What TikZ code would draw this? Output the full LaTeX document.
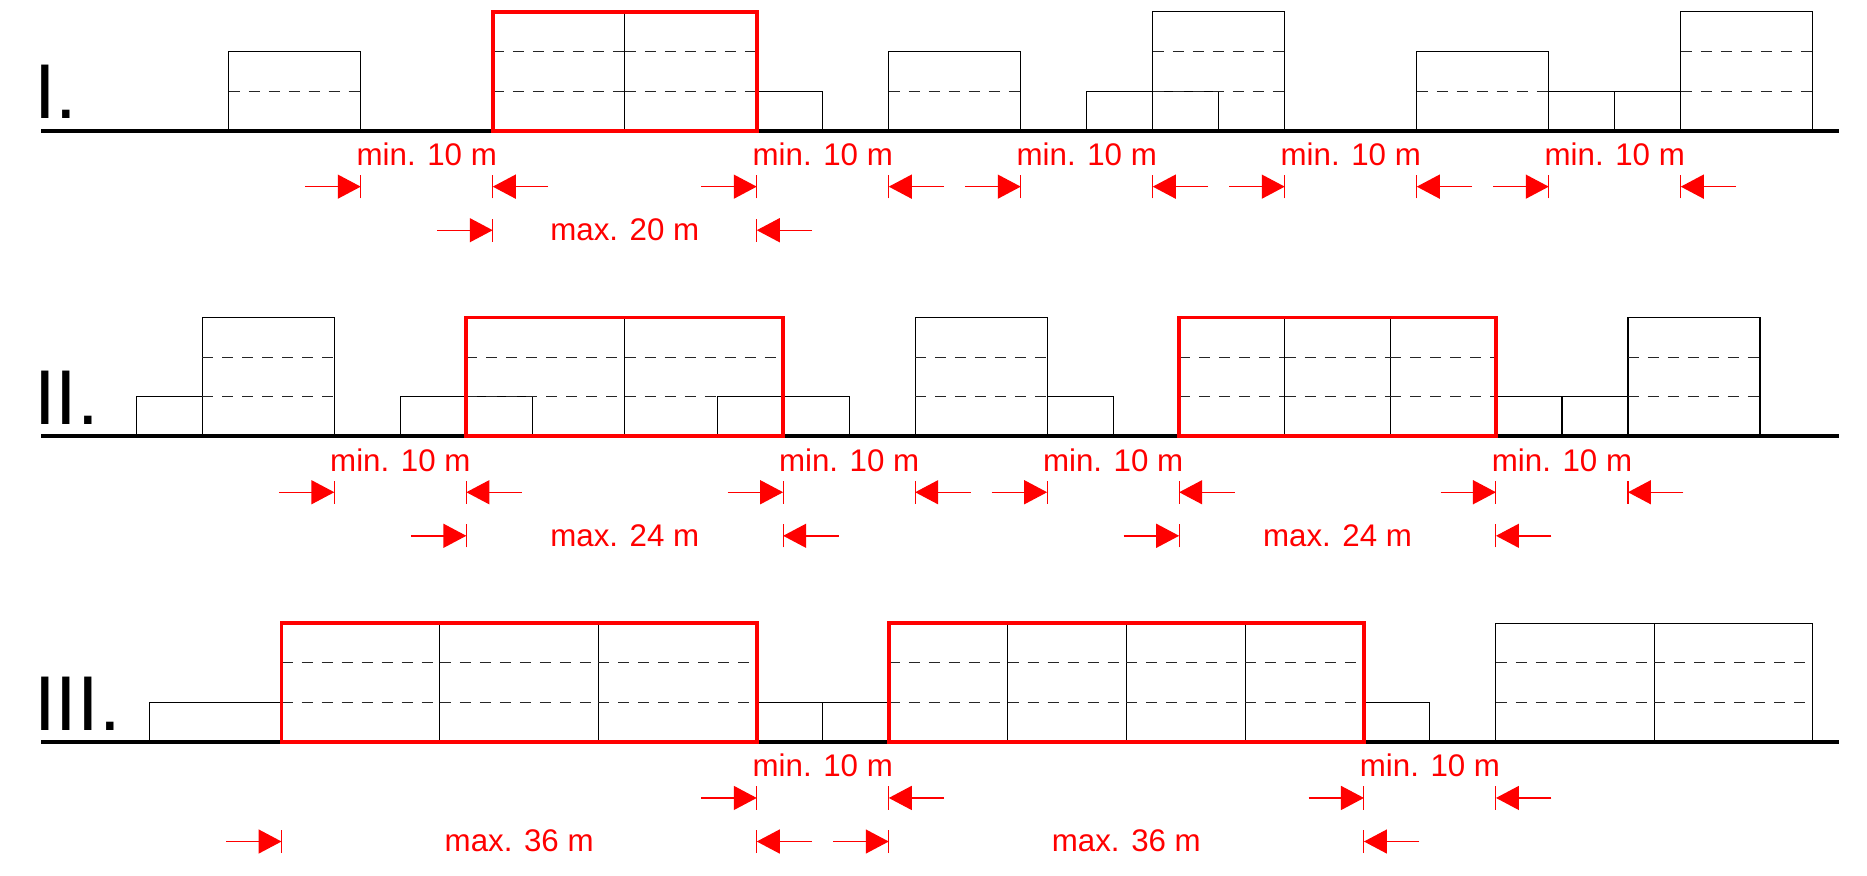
\documentclass[tikz,border=0pt]{standalone}
\usepackage{fontspec}
\setmainfont{Liberation Sans}
\usetikzlibrary{arrows.meta}
\tikzset{
  wall/.style={draw=black, line width=0.3pt},
  storey/.style={draw=black!85, line width=0.3pt, dash pattern=on 0.11cm off 0.09cm},
  redframe/.style={draw=red, line width=1.1pt, line join=miter},
  groundline/.style={draw=black, line width=1.15pt},
  dimline/.style={draw=red, line width=0.4pt, -{Triangle[length=0.23cm,width=0.24cm]}},
  dimtick/.style={draw=red, line width=0.3pt},
  dimtext/.style={text=red, font=\fontsize{8.9pt}{10pt}\selectfont, inner sep=0pt, anchor=base},
  numeral/.style={font=\fontsize{22.1pt}{24pt}\selectfont, inner sep=0pt, anchor=base west},
}
% building: x1, x2, storeys, ground
\newcommand{\bldg}[4]{%
  \draw[wall] (#1,#4) rectangle (#2,#4+3*#3);
  \ifnum#3>1 \draw[storey] (#1,#4+3) -- (#2,#4+3);\fi
  \ifnum#3>2 \draw[storey] (#1,#4+6) -- (#2,#4+6);\fi}
\newcommand{\tipR}[2]{%
  \draw[dimline] (#1-4.2,#2) -- (#1,#2);
  \draw[dimtick] (#1,#2-0.88) -- (#1,#2+0.88);}
\newcommand{\tipL}[2]{%
  \draw[dimline] (#1+4.2,#2) -- (#1,#2);
  \draw[dimtick] (#1,#2-0.88) -- (#1,#2+0.88);}
\begin{document}
\begin{tikzpicture}[x=0.132cm,y=0.132cm]
\useasboundingbox (-37.33,-66.36) rectangle (104.11,0);
\fill[white] (-37.33,-66.36) rectangle (104.11,0);
% ---------------- Row I ----------------
\def\g{-9.90}
\node[numeral] (lblI) at (-34.78,\g+0.9) {I.};
\bldg{-20}{-10}{2}{\g}
\bldg{0}{10}{3}{\g}
\bldg{10}{20}{3}{\g}
\bldg{20}{25}{1}{\g}
\bldg{30}{40}{2}{\g}
\bldg{45}{55}{1}{\g}
\bldg{50}{60}{3}{\g}
\bldg{70}{80}{2}{\g}
\bldg{80}{85}{1}{\g}
\bldg{85}{90}{1}{\g}
\bldg{90}{100}{3}{\g}
\draw[groundline] (-34.2,\g) -- (102,\g);
\draw[redframe] (0,\g) rectangle (20,\g+9);
\tipR{-10}{\g-4.24}\tipL{0}{\g-4.24}
\tipR{20}{\g-4.24}\tipL{30}{\g-4.24}
\tipR{40}{\g-4.24}\tipL{50}{\g-4.24}
\tipR{60}{\g-4.24}\tipL{70}{\g-4.24}
\tipR{80}{\g-4.24}\tipL{90}{\g-4.24}
\node[dimtext] (m1a) at (-5,\g-2.65) {min. 10 m};
\node[dimtext] (m1b) at (25,\g-2.65) {min. 10 m};
\node[dimtext] (m1c) at (45,\g-2.65) {min. 10 m};
\node[dimtext] (m1d) at (65,\g-2.65) {min. 10 m};
\node[dimtext] (m1e) at (85,\g-2.65) {min. 10 m};
\tipR{0}{\g-7.54}\tipL{20}{\g-7.54}
\node[dimtext] (x1a) at (10,\g-8.33) {max. 20 m};
% ---------------- Row II ----------------
\def\g{-33.05}
\node[numeral] (lblII) at (-34.78,\g+0.9) {II.};
\bldg{-27}{-22}{1}{\g}
\bldg{-22}{-12}{3}{\g}
\bldg{-7}{3}{1}{\g}
\bldg{-2}{10}{3}{\g}
\bldg{10}{22}{3}{\g}
\bldg{17}{27}{1}{\g}
\bldg{32}{42}{3}{\g}
\bldg{42}{47}{1}{\g}
\bldg{52}{60}{3}{\g}
\bldg{60}{68}{3}{\g}
\bldg{68}{76}{3}{\g}
\bldg{76}{81}{1}{\g}
\bldg{81}{86}{1}{\g}
\bldg{86}{96}{3}{\g}
\draw[groundline] (-34.2,\g) -- (102,\g);
\draw[redframe] (-2,\g) rectangle (22,\g+9);
\draw[redframe] (52,\g) rectangle (76,\g+9);
\tipR{-12}{\g-4.24}\tipL{-2}{\g-4.24}
\tipR{22}{\g-4.24}\tipL{32}{\g-4.24}
\tipR{42}{\g-4.24}\tipL{52}{\g-4.24}
\tipR{76}{\g-4.24}\tipL{86}{\g-4.24}
\node[dimtext] (m2a) at (-7,\g-2.65) {min. 10 m};
\node[dimtext] (m2b) at (27,\g-2.65) {min. 10 m};
\node[dimtext] (m2c) at (47,\g-2.65) {min. 10 m};
\node[dimtext] (m2d) at (81,\g-2.65) {min. 10 m};
\tipR{-2}{\g-7.54}\tipL{22}{\g-7.54}
\tipR{52}{\g-7.54}\tipL{76}{\g-7.54}
\node[dimtext] (x2a) at (10,\g-8.33) {max. 24 m};
\node[dimtext] (x2b) at (64,\g-8.33) {max. 24 m};
% ---------------- Row III ----------------
\def\g{-56.21}
\node[numeral] (lblIII) at (-34.78,\g+0.9) {III.};
\bldg{-26}{-16}{1}{\g}
\bldg{-16}{-4}{3}{\g}
\bldg{-4}{8}{3}{\g}
\bldg{8}{20}{3}{\g}
\bldg{20}{25}{1}{\g}
\bldg{25}{30}{1}{\g}
\bldg{30}{39}{3}{\g}
\bldg{39}{48}{3}{\g}
\bldg{48}{57}{3}{\g}
\bldg{57}{66}{3}{\g}
\bldg{66}{71}{1}{\g}
\bldg{76}{88}{3}{\g}
\bldg{88}{100}{3}{\g}
\draw[groundline] (-34.2,\g) -- (102,\g);
\draw[redframe] (-16,\g) rectangle (20,\g+9);
\draw[redframe] (30,\g) rectangle (66,\g+9);
\tipR{20}{\g-4.24}\tipL{30}{\g-4.24}
\tipR{66}{\g-4.24}\tipL{76}{\g-4.24}
\node[dimtext] (m3a) at (25,\g-2.65) {min. 10 m};
\node[dimtext] (m3b) at (71,\g-2.65) {min. 10 m};
\tipR{-16}{\g-7.54}\tipL{20}{\g-7.54}
\tipR{30}{\g-7.54}\tipL{66}{\g-7.54}
\node[dimtext] (x3a) at (2,\g-8.33) {max. 36 m};
\node[dimtext] (x3b) at (48,\g-8.33) {max. 36 m};
\end{tikzpicture}
\end{document}
